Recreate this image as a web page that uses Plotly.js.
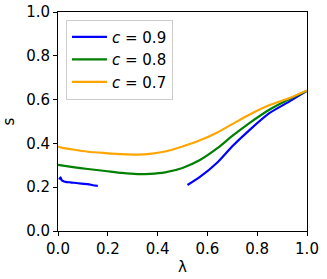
<!DOCTYPE html>
<html><head><meta charset="utf-8">
<script src="https://cdn.plot.ly/plotly-3.0.1.min.js"></script>
<style>html,body{margin:0;padding:0;background:#fff}</style>
</head><body><div id="chart" style="width:327px;height:279px"></div>
<script>
const lam09a = [0.005, 0.01, 0.015, 0.02, 0.03, 0.05, 0.08, 0.12, 0.14, 0.16];
const s09a   = [0.235, 0.245, 0.232, 0.228, 0.224, 0.222, 0.218, 0.214, 0.209, 0.206];
const lam09b = [0.52, 0.57, 0.64, 0.70, 0.77, 0.85, 0.93, 1.0];
const s09b   = [0.21, 0.247, 0.313, 0.387, 0.462, 0.539, 0.592, 0.64];
const lam08 = [0.0, 0.06, 0.12, 0.19, 0.257, 0.32, 0.369, 0.43, 0.50, 0.57, 0.64, 0.70, 0.77, 0.85, 0.93, 1.0];
const s08   = [0.302, 0.292, 0.283, 0.274, 0.265, 0.260, 0.261, 0.268, 0.288, 0.324, 0.378, 0.434, 0.494, 0.555, 0.603, 0.64];
const lam07 = [0.0, 0.01, 0.06, 0.12, 0.19, 0.257, 0.32, 0.369, 0.43, 0.50, 0.57, 0.64, 0.70, 0.77, 0.85, 0.93, 1.0];
const s07   = [0.385, 0.382, 0.372, 0.362, 0.356, 0.351, 0.349, 0.352, 0.363, 0.386, 0.414, 0.450, 0.488, 0.532, 0.575, 0.607, 0.642];
const names = ['<i>c</i> = 0.9', '<i>c</i> = 0.8', '<i>c</i> = 0.7'];
const colors = ['#0000ff', '#008000', '#ffa500'];
const xTicks = [0, 0.2, 0.4, 0.6, 0.8, 1.0];
const yTicks = [0, 0.2, 0.4, 0.6, 0.8, 1.0];

const traces = [
  {x: lam09a, y: s09a, mode: 'lines', name: names[0], legendgroup: 'a', line: {color: colors[0], width: 2.2, shape: 'spline', smoothing: 0.6}},
  {x: lam09b, y: s09b, mode: 'lines', name: names[0], legendgroup: 'a', showlegend: false, line: {color: colors[0], width: 2.2, shape: 'spline', smoothing: 0.6}},
  {x: lam08, y: s08, mode: 'lines', name: names[1], line: {color: colors[1], width: 2.2, shape: 'spline', smoothing: 0.6}},
  {x: lam07, y: s07, mode: 'lines', name: names[2], line: {color: colors[2], width: 2.2, shape: 'spline', smoothing: 0.6}}
];
const font = {family: 'DejaVu Sans', size: 15, color: '#000'};
const axis = {
  showgrid: false, zeroline: false, showline: true, mirror: true, linecolor: '#000', linewidth: 1,
  ticks: 'outside', ticklen: 4, tickwidth: 1, tickcolor: '#000', tickformat: '.1f', tickfont: font
};
const layout = {
  width: 327, height: 279,
  margin: {l: 58, r: 20, t: 12, b: 48},
  paper_bgcolor: '#fff', plot_bgcolor: '#fff',
  font: font,
  showlegend: true,
  xaxis: Object.assign({}, axis, {range: [0, 1], tickvals: xTicks, title: {text: 'λ', font: font, standoff: 4}}),
  yaxis: Object.assign({}, axis, {range: [0, 1], tickvals: yTicks, title: {text: 's', font: font, standoff: 12}}),
  legend: {x: 0.032, y: 0.965, xanchor: 'left', yanchor: 'top', bgcolor: 'rgba(255,255,255,0.8)',
           bordercolor: '#cccccc', borderwidth: 1, font: {family: 'DejaVu Sans', size: 15, color: '#000'},
           tracegroupgap: 0, itemwidth: 35}
};
Plotly.newPlot('chart', traces, layout, {staticPlot: true, displayModeBar: false});
</script></body></html>
